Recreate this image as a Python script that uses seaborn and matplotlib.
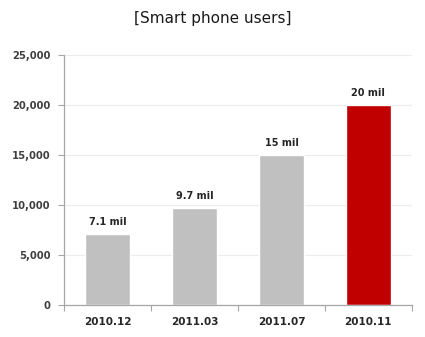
import matplotlib
matplotlib.use("Agg")
import matplotlib.pyplot as plt
import seaborn as sns
import pandas as pd
from matplotlib.ticker import FuncFormatter, MultipleLocator, FixedLocator

periods = ["2010.12", "2011.03", "2011.07", "2010.11"]
users = [7100, 9700, 15000, 20000]
value_labels = ["7.1 mil", "9.7 mil", "15 mil", "20 mil"]
bar_colors = ["#c0c0c0", "#c0c0c0", "#c0c0c0", "#c00000"]

df = pd.DataFrame({"period": periods, "users": users})

sns.set_style("white")
fig = plt.figure(figsize=(4.25, 3.37), dpi=100)
ax = fig.add_axes([0.151, 0.095, 0.818, 0.742])

sns.barplot(data=df, x="period", y="users", hue="period", palette=bar_colors,
            width=0.51, legend=False, saturation=1, ax=ax)

for p, lab in zip(ax.patches, value_labels):
    ax.annotate(lab, (p.get_x() + p.get_width() / 2, p.get_height()),
                xytext=(0, 5), textcoords="offset points", ha="center", va="bottom",
                fontsize=7, fontweight="bold", color="#262626")

ax.set_ylim(0, 25000)
ax.set_xlim(-0.5, 3.5)
ax.yaxis.set_major_locator(MultipleLocator(5000))
ax.yaxis.set_major_formatter(FuncFormatter(lambda v, _: f"{int(v):,}"))
ax.grid(axis="y", color="#ececec", linewidth=0.8)
ax.set_axisbelow(True)
ax.set_xlabel("")
ax.set_ylabel("")

for side in ["top", "right"]:
    ax.spines[side].set_visible(False)
for side in ["left", "bottom"]:
    ax.spines[side].set_color("#a6a6a6")
    ax.spines[side].set_linewidth(0.9)

ax.tick_params(axis="y", length=4, width=0.8, color="#a6a6a6", direction="out",
               labelsize=7.2, labelcolor="#404040", pad=6, left=True)
ax.tick_params(axis="x", length=0, labelsize=7.5, labelcolor="#262626", pad=9)
for t in ax.get_yticklabels() + ax.get_xticklabels():
    t.set_fontweight("bold")

# category boundary ticks on the x axis
ax.xaxis.set_minor_locator(FixedLocator([-0.5, 0.5, 1.5, 2.5, 3.5]))
ax.tick_params(axis="x", which="minor", length=4, width=0.8, color="#a6a6a6",
               direction="out", bottom=True)

fig.text(0.5, 0.945, "[Smart phone users]", ha="center", va="center",
         fontsize=11, color="#1a1a1a")

fig.savefig("out.png", dpi=100)
